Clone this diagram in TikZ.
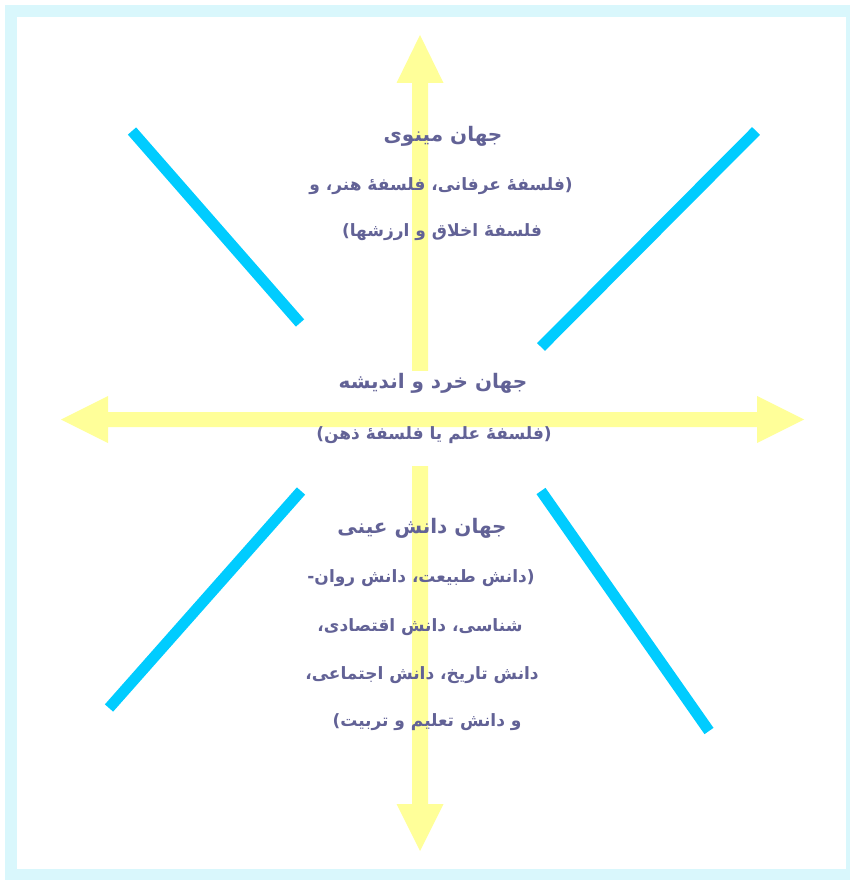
\documentclass[tikz,border=0pt]{standalone}
\usepackage{fontspec}
\TeXXeTstate=1
\newfontfamily\arabicfont[Script=Arabic]{DejaVu Sans}
\definecolor{framecol}{RGB}{217,247,252}
\definecolor{arrowcol}{RGB}{255,255,153}
\definecolor{linecol}{RGB}{0,204,255}
\definecolor{txtcol}{RGB}{98,98,150}
\begin{document}
\begin{tikzpicture}[x=1pt,y=-1pt,
  arrowfill/.style={fill=arrowcol},
  rayline/.style={draw=linecol,line width=11pt,line cap=butt},
  ttl/.style={text=txtcol,inner sep=0pt,font=\arabicfont\bfseries\fontsize{20}{24}\selectfont},
  lbl/.style={text=txtcol,inner sep=0pt,font=\arabicfont\bfseries\fontsize{17}{20}\selectfont}]
\useasboundingbox (0,0) rectangle (850,880);
% frame
\fill[framecol] (5,5) rectangle (850,880);
\fill[white] (17,17) rectangle (846,869);
% vertical double arrow
\fill[arrowfill] (420,35) -- (443.5,83) -- (428,83) -- (428,804) -- (443.5,804) -- (420,851)
  -- (396.5,804) -- (412,804) -- (412,83) -- (396.5,83) -- cycle;
% white mask behind the middle text
\fill[white] (330,371) rectangle (540,466);
% horizontal double arrow
\fill[arrowfill] (61,419.5) -- (108,396) -- (108,412) -- (757,412) -- (757,396) -- (804,419.5)
  -- (757,443) -- (757,427) -- (108,427) -- (108,443) -- cycle;
% cyan rays
\coordinate (tlA) at (132,131); \coordinate (tlB) at (300,323);
\coordinate (trA) at (756,131); \coordinate (trB) at (541,347);
\coordinate (blA) at (301,491); \coordinate (blB) at (109,708);
\coordinate (brA) at (541,491); \coordinate (brB) at (709,731);
\draw[rayline] (tlA) -- (tlB);
\draw[rayline] (trA) -- (trB);
\draw[rayline] (blA) -- (blB);
\draw[rayline] (brA) -- (brB);
% top text
\node[ttl] (t1) at (443,136) {\beginR جهان مینوی\endR};
\node[lbl] (t2) at (441,186) {\beginR (فلسفهٔ عرفانی، فلسفهٔ هنر، و\endR};
\node[lbl] (t3) at (442,232) {\beginR فلسفهٔ اخلاق و ارزشها)\endR};
% middle text
\node[ttl] (m1) at (433,383) {\beginR جهان خرد و اندیشه\endR};
\node[lbl] (m2) at (434,435) {\beginR (فلسفهٔ علم یا فلسفهٔ ذهن)\endR};
% bottom text
\node[ttl] (b1) at (422,528) {\beginR جهان دانش عینی\endR};
\node[lbl] (b2) at (421,578) {\beginR (دانش طبیعت، دانش روان-\endR};
\node[lbl] (b3) at (420,627) {\beginR شناسی، دانش اقتصادی،\endR};
\node[lbl] (b4) at (422,675) {\beginR دانش تاریخ، دانش اجتماعی،\endR};
\node[lbl] (b5) at (427,722) {\beginR و دانش تعلیم و تربیت)\endR};
\end{tikzpicture}
\end{document}
